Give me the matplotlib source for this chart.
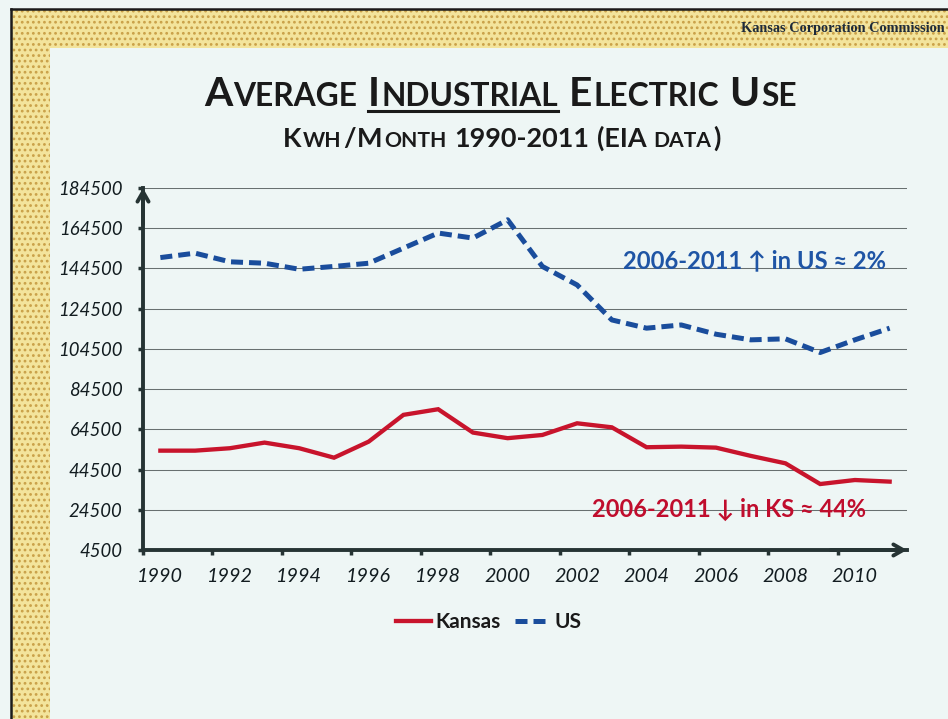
import matplotlib
matplotlib.use('Agg')
import matplotlib.pyplot as plt
from matplotlib.patches import Rectangle
from matplotlib.lines import Line2D
import numpy as np

# ---------------- data ----------------
years = list(range(1990, 2012))
kansas = [53900, 53900, 55100, 57900, 55100, 50400, 58400, 71700, 74500, 62900,
          60100, 61700, 67500, 65500, 55600, 55900, 55400, 51300, 47600, 37300,
          39300, 38500]
us = [149900, 152100, 147800, 147100, 144100, 145500, 147100, 154600, 162100, 159600,
      168700, 145500, 136300, 118900, 114800, 116400, 111800, 109000, 109500, 102700,
      109000, 114800]
ytick_values = [4500, 24500, 44500, 64500, 84500, 104500, 124500, 144500, 164500, 184500]
xtick_labels = ['1990', '1992', '1994', '1996', '1998', '2000', '2002', '2004',
                '2006', '2008', '2010']
series_names = ['Kansas', 'US']

# ---------------- figure ----------------
W, H = 948, 719
BG = '#eef6f5'
plt.rcParams['hatch.color'] = '#c9a048'
plt.rcParams['hatch.linewidth'] = 1.2
fig = plt.figure(figsize=(W / 100, H / 100), dpi=100)
fig.patch.set_facecolor(BG)
SANS = ['Lato', 'DejaVu Sans']


def fx(x):
    return x / W


def fy(y):
    return 1 - y / H


# textured frame
fig.patches.append(Rectangle((fx(11), 0), 1 - fx(11), fy(9), transform=fig.transFigure,
                             facecolor='#f3e49c', edgecolor='#c9a048', hatch='...',
                             lw=0, zorder=-2))
fig.patches.append(Rectangle((fx(50), 0), 1 - fx(50), fy(48), transform=fig.transFigure,
                             facecolor=BG, lw=0, zorder=-1))
fig.add_artist(Line2D([fx(11), fx(11)], [0, fy(9)], transform=fig.transFigure,
                      color='#1b1b1b', lw=1.8))
fig.add_artist(Line2D([fx(11), 1], [fy(9), fy(9)], transform=fig.transFigure,
                      color='#1b1b1b', lw=1.8))
fig.text(fx(945), fy(32), 'Kansas Corporation Commission', family='Liberation Serif',
         fontweight='bold', fontsize=10.3, color='#1d2a3a', ha='right', va='baseline')

renderer = fig.canvas.get_renderer()


def fit_size(text, target_w, size=13, **kw):
    t = fig.text(0, 0, text, fontsize=size, family=SANS, **kw)
    w = t.get_window_extent(renderer).width
    t.remove()
    return size * target_w / w


def pieces_text(pieces, xc, ybase, size, ratio, color, target_w, gap_px=1.5):
    """pieces: list of (text, big?) or (None, space_em)."""
    def build(sz):
        objs = []
        for t, b in pieces:
            if t is None:
                objs.append(('space', b * sz * 100 / 72))
            else:
                o = fig.text(0, 0, t, fontsize=sz if b else sz * ratio, fontweight='bold',
                             family=SANS, color=color, ha='left', va='baseline', zorder=6)
                objs.append((o, o.get_window_extent(renderer).width))
        return objs

    def total(objs):
        return sum(w + (gap_px if not isinstance(o, str) else 0) for o, w in objs)

    objs = build(size)
    tw = total(objs)
    for o, w in objs:
        if not isinstance(o, str):
            o.remove()
    size = size * target_w / tw
    objs = build(size)
    tw = total(objs)
    x = xc - tw / 2
    placed = []
    for o, w in objs:
        if isinstance(o, str):
            x += w
            continue
        o.set_position((fx(x), fy(ybase)))
        placed.append((o, x, x + w))
        x += w + gap_px
    return placed


title_pieces = [('A', True), ('VERAGE', False), (None, 0.22),
                ('I', True), ('NDUSTRIAL', False), (None, 0.22),
                ('E', True), ('LECTRIC', False), (None, 0.22),
                ('U', True), ('SE', False)]
placed = pieces_text(title_pieces, 501, 106, 30, 0.78, '#1a1a1a', 597)
ux0 = placed[2][1]
ux1 = placed[3][2]
fig.add_artist(Line2D([fx(ux0), fx(ux1)], [fy(110.5), fy(110.5)], transform=fig.transFigure,
                      color='#1a1a1a', lw=2.2))

sub_pieces = [('K', True), ('WH', False), ('/', True), ('M', True), ('ONTH', False),
              (None, 0.22), ('1990-2011', True), (None, 0.22), ('(EIA', True),
              (None, 0.22), ('DATA', False), (')', True)]
pieces_text(sub_pieces, 502.5, 147, 20, 0.78, '#1a1a1a', 439)

ysize = fit_size('24500', 54, style='italic')
xsize = fit_size('1990', 46, style='italic')

# ---------------- axes ----------------
ax = fig.add_axes([fx(143), fy(550), (907 - 143) / W, (550 - 188) / H])
ax.set_zorder(5)
ax.set_facecolor('none')
x = np.arange(len(years))
l1, = ax.plot(x, kansas, color='#c8142c', lw=3.1, label=series_names[0], zorder=3,
              solid_joinstyle='miter')
l2, = ax.plot(x, us, color='#1a4d9c', lw=3.6, ls=(0, (2.4, 1.2)), label=series_names[1],
              zorder=3)
ax.set_xlim(-0.5, 21.5)
ax.set_ylim(4500, 184500)

ax.set_yticks(ytick_values)
ax.set_yticklabels([str(v) for v in ytick_values], fontsize=ysize, style='italic',
                   family=SANS, color='#121c20')
ax.set_xticks(np.arange(-0.5, 20, 2))
ax.set_xticklabels([])
ax.set_xticks(np.arange(0, 21, 2), minor=True)
ax.set_xticklabels(xtick_labels, minor=True, fontsize=xsize, style='italic', family=SANS,
                   color='#121c20')
ax.tick_params(axis='x', which='minor', length=0, pad=13)
ax.tick_params(axis='x', which='major', length=3.8, width=2.5, color='#263434')
ax.tick_params(axis='y', length=3.8, width=2.5, color='#263434', pad=11)
ax.yaxis.grid(True, color='#687070', lw=0.75)
ax.set_axisbelow(True)
for s in ['top', 'right']:
    ax.spines[s].set_visible(False)
for s in ['left', 'bottom']:
    ax.spines[s].set_color('#263434')
    ax.spines[s].set_linewidth(2.8)

ax.annotate('', xy=(0, 1.0), xytext=(0, 0.9), xycoords='axes fraction',
            arrowprops=dict(arrowstyle='->,head_length=0.7,head_width=0.4', lw=2.8,
                            color='#263434', shrinkA=0, shrinkB=0), annotation_clip=False)
ax.annotate('', xy=(1.0, 0), xytext=(0.9, 0), xycoords='axes fraction',
            arrowprops=dict(arrowstyle='->,head_length=0.7,head_width=0.4', lw=2.8,
                            color='#263434', shrinkA=0, shrinkB=0), annotation_clip=False)

# annotations
pieces_text([('2006-2011 \u2191 in US \u2248 2%', True)], (623 + 888) / 2, 268, 17, 1,
            '#1f55a5', 265)
pieces_text([('2006-2011 \u2193 in KS \u2248 44%', True)], (592 + 868) / 2, 517, 17, 1,
            '#c00d2d', 276)

leg = ax.legend(handles=[l1, l2], loc='center', bbox_to_anchor=(fx(489), fy(622)),
                bbox_transform=fig.transFigure, ncol=2, frameon=False,
                prop={'family': SANS, 'weight': 'bold', 'size': 15},
                handlelength=1.7, handletextpad=0.2, columnspacing=0.7)
for t in leg.get_texts():
    t.set_color('#1a1a1a')

fig.savefig('out.png', dpi=100, facecolor=BG)
